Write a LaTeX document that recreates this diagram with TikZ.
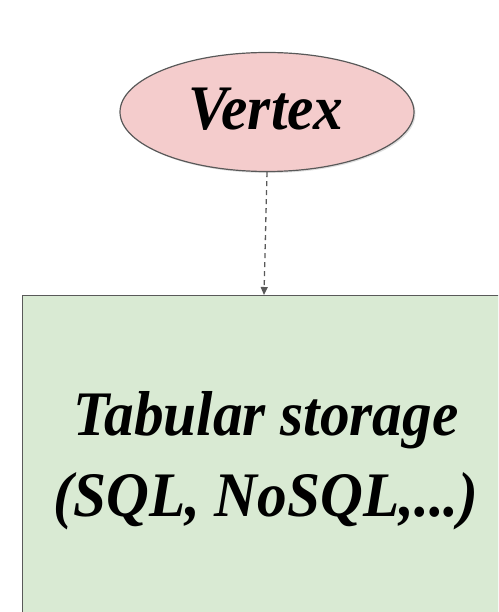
\documentclass[tikz,border=0pt]{standalone}
\usepackage{fontspec}
\usepackage{graphicx}
\usetikzlibrary{shapes.geometric,shadows,arrows.meta}

\newfontfamily\scriptface{Liberation Serif}

\definecolor{vertexfill}{HTML}{F4CCCC}
\definecolor{storefill}{HTML}{D9EAD3}
\definecolor{edgegray}{HTML}{595959}

\newcommand{\bigscript}[1]{\scalebox{1.14}[1.22]{\fontsize{52}{52}\selectfont #1}}

\tikzset{
  softshadow/.style={drop shadow={opacity=0.25,shadow xshift=1.5pt,shadow yshift=-1.5pt}},
  vertexnode/.style={ellipse,draw=edgegray,line width=1.2pt,fill=vertexfill,
    minimum width=294pt,minimum height=119pt,inner sep=0pt,softshadow},
  storebox/.style={rectangle,draw=edgegray,line width=1.2pt,fill=storefill,
    minimum width=520pt,minimum height=360pt,inner sep=0pt,anchor=north west,softshadow},
  scripttext/.style={font=\scriptface\bfseries\itshape,text=black,align=center},
  linkarrow/.style={draw=edgegray,line width=1.3pt,dash pattern=on 5pt off 4pt,
    -{Triangle[width=7pt,length=8pt]}}
}

\begin{document}
\begin{tikzpicture}[x=1pt,y=-1pt]
  \useasboundingbox (0,0) rectangle (498,612);
  \clip (0,0) rectangle (498,612);

  % storage block, running past the right and bottom edges
  \node[storebox] (store) at (22,295) {};
  \node[scripttext] (storelabel) at (266,461)
    {\bigscript{Tabular storage}\\[22pt]
     \bigscript{(SQL, NoSQL,...)}};

  % vertex
  \node[vertexnode] (vertex) at (267,112) {};
  \node[scripttext] (vertexlabel) at (266,109)
    {\bigscript{Vertex}};

  % dashed link from the vertex down to the storage block
  \coordinate (tip) at (264,295);
  \draw[linkarrow] (vertex.south) -- (tip);
\end{tikzpicture}
\end{document}
